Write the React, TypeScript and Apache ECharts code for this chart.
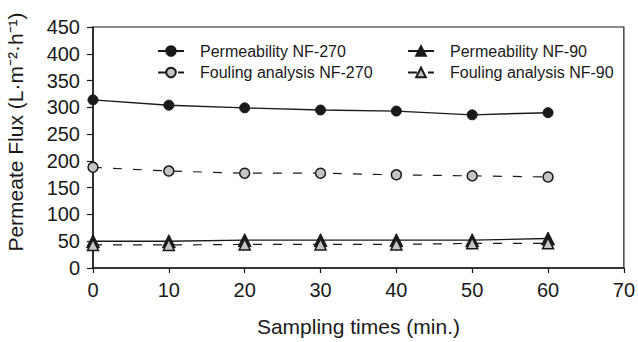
import React, { useEffect, useRef } from "react";
import * as echarts from "echarts";

const xValues = [0, 10, 20, 30, 40, 50, 60];
const permNF270 = [314, 304, 299, 295, 293, 286, 290];
const foulNF270 = [188, 181, 177, 177, 174, 172, 170];
const permNF90 = [50, 50, 52, 52, 52, 52, 55];
const foulNF90 = [43, 43, 44, 44, 44, 46, 46];
const seriesNames = [
  "Permeability NF-270",
  "Fouling analysis NF-270",
  "Permeability NF-90",
  "Fouling analysis NF-90",
];
const xTitle = "Sampling times (min.)";
const yTitle = "Permeate Flux (L·m⁻²·h⁻¹)";

const FONT = "'Liberation Sans', Arial, sans-serif";
const INK = "#1a1a1a";

export default function App() {
  const ref = useRef<HTMLDivElement>(null);
  useEffect(() => {
    if (!ref.current) return;
    const chart = echarts.init(ref.current, undefined, { renderer: "svg" });
    const pairs = (ys: number[]) => xValues.map((x, i) => [x, ys[i]]);
    const legendBase = (name: string, left: number, top: number) => ({
      data: [name],
      left,
      top,
      itemWidth: 26,
      itemHeight: 12,
      padding: 0,
      textStyle: { fontFamily: FONT, fontSize: 16, color: INK, padding: [0, 0, 0, 11] },
      selectedMode: false,
    });
    chart.setOption({
      animation: false,
      backgroundColor: "#ffffff",
      grid: {
        left: 93,
        right: 13,
        top: 27,
        bottom: 67,
        show: true,
        borderColor: INK,
        borderWidth: 1.2,
      },
      legend: [
        legendBase(seriesNames[0], 157, 43),
        legendBase(seriesNames[1], 157, 64.5),
        legendBase(seriesNames[2], 407, 43),
        legendBase(seriesNames[3], 407, 64.5),
      ],
      graphic: [
        {
          type: "text",
          x: 15,
          y: 132,
          rotation: Math.PI / 2,
          style: {
            text: yTitle,
            font: `21px ${FONT}`,
            fill: INK,
            align: "center",
            verticalAlign: "middle",
          },
        },
      ],
      xAxis: {
        type: "value",
        min: 0,
        max: 70,
        interval: 10,
        name: xTitle,
        nameLocation: "middle",
        nameGap: 48,
        nameTextStyle: { fontFamily: FONT, fontSize: 21, color: INK },
        axisLine: { lineStyle: { color: INK, width: 1.5 } },
        axisTick: { show: true, length: 5, lineStyle: { color: INK, width: 1.2 } },
        axisLabel: { fontFamily: FONT, fontSize: 20, color: INK, margin: 12 },
        splitLine: { show: false },
      },
      yAxis: {
        type: "value",
        min: 0,
        max: 450,
        interval: 50,
        axisLine: { show: true, lineStyle: { color: INK, width: 1.5 } },
        axisTick: { show: true, length: 6, lineStyle: { color: INK, width: 1.2 } },
        axisLabel: { fontFamily: FONT, fontSize: 20, color: INK, margin: 13 },
        splitLine: { show: false },
      },
      series: [
        {
          name: seriesNames[0],
          type: "line",
          data: pairs(permNF270),
          symbol: "circle",
          symbolSize: 10,
          lineStyle: { color: INK, width: 1.4 },
          itemStyle: { color: INK, borderColor: INK, borderWidth: 1 },
        },
        {
          name: seriesNames[1],
          type: "line",
          data: pairs(foulNF270),
          symbol: "circle",
          symbolSize: 10,
          lineStyle: { color: INK, width: 1.2, type: [9, 11] },
          itemStyle: { color: "#c4c4c4", borderColor: INK, borderWidth: 1.5 },
        },
        {
          name: seriesNames[2],
          type: "line",
          data: pairs(permNF90),
          symbol: "triangle",
          symbolSize: 13,
          lineStyle: { color: INK, width: 1.4 },
          itemStyle: { color: INK, borderColor: INK, borderWidth: 1 },
        },
        {
          name: seriesNames[3],
          type: "line",
          data: pairs(foulNF90),
          symbol: "triangle",
          symbolSize: 11,
          lineStyle: { color: INK, width: 1.2, type: [9, 11] },
          itemStyle: { color: "#c4c4c4", borderColor: INK, borderWidth: 1.5 },
        },
      ],
    });
    return () => chart.dispose();
  }, []);
  return <div ref={ref} style={{ width: 638, height: 342, position: "absolute", left: 0, top: 0 }} />;
}
